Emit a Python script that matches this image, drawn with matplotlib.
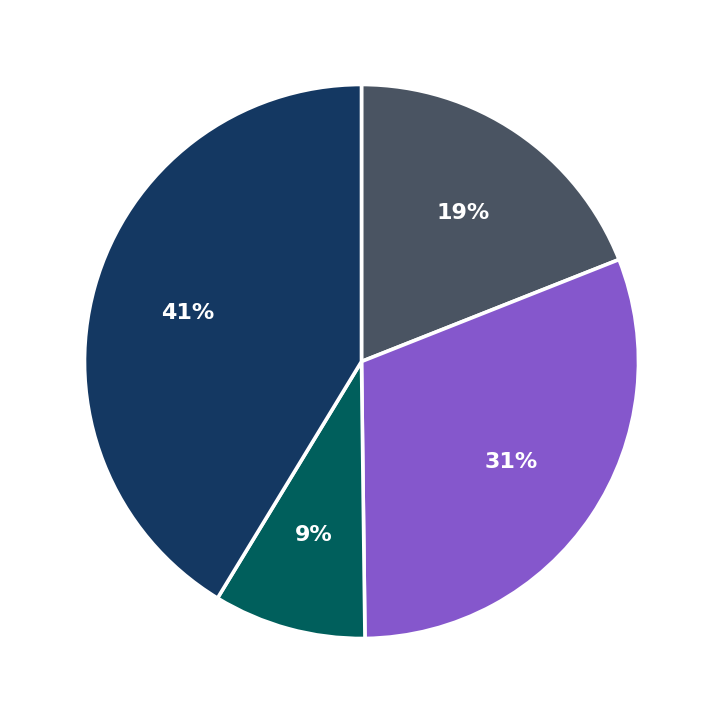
import matplotlib
matplotlib.use("Agg")
import matplotlib.pyplot as plt

labels = ["A", "B", "C", "D"]
values = [19.0, 30.8, 8.9, 41.3]
colors = ["#4a5462", "#8557cc", "#005f5c", "#143862"]

fig = plt.figure(figsize=(7.23, 7.23), dpi=100)
ax = fig.add_axes([0, 0, 1, 1])
wedges, texts, autotexts = ax.pie(
    values, colors=colors, startangle=90, counterclock=False,
    autopct=lambda p: f"{p:.0f}%", pctdistance=0.65,
    wedgeprops=dict(edgecolor="white", linewidth=2.6),
    textprops=dict(color="white", fontsize=16, fontweight="bold"),
)
lim = 723 / 2 / 277
ax.set_xlim(-lim, lim)
ax.set_ylim(-lim, lim)
ax.set_aspect("equal")
ax.axis("off")
fig.savefig("out.png", dpi=100, facecolor="white")
